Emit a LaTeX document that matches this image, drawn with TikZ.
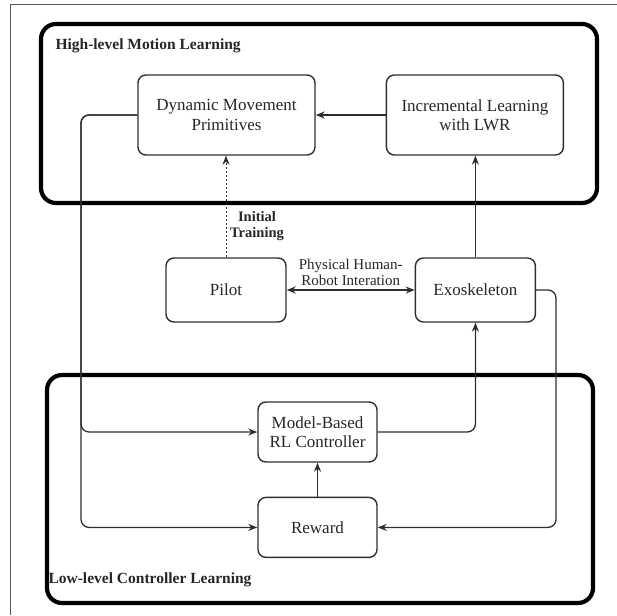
\documentclass[tikz,border=0pt]{standalone}
\usepackage{fontspec}
\setmainfont{Liberation Serif}
\usetikzlibrary{positioning,arrows.meta}
\definecolor{boxgray}{HTML}{2E2E2E}
\definecolor{inkgray}{HTML}{262626}
\begin{document}
\begin{tikzpicture}[
  x=1pt, y=-1pt,
  font=\fontsize{17}{19.5}\selectfont,
  block/.style={rounded corners=8pt, draw=boxgray, line width=1.4pt, text=inkgray, align=center, inner sep=0pt},
  longbox/.style={block, minimum width=177pt, minimum height=80pt},
  shortbox/.style={block, minimum width=120pt, minimum height=64pt},
  midbox/.style={block, minimum width=119pt, minimum height=60pt},
  group/.style={rounded corners=15pt, line width=4.2pt},
  grouplabel/.style={anchor=west, font=\fontsize{15.5}{17}\selectfont\bfseries, text=inkgray},
  linklabel/.style={font=\fontsize{15}{15.5}\selectfont, text=inkgray, align=center, inner sep=1pt},
  arr/.style={-{Stealth[length=9pt,width=7pt]}, line width=1.3pt, draw=boxgray},
  biarr/.style={{Stealth[length=9pt,width=7pt]}-{Stealth[length=9pt,width=7pt]}, line width=1.3pt, draw=boxgray}
]
\useasboundingbox (0,0) rectangle (617,615);
% page frame
\draw[black!65, line width=0.8pt] (10,615) -- (10,4) -- (617,4);

% groups
\draw[group] (41,24) rectangle (597,203);
\draw[group] (47,375) rectangle (593,603);
\node[grouplabel] (hl) at (52,46) {High-level Motion Learning};
\node[grouplabel] (ll) at (45,580) {Low-level Controller Learning};

% blocks
\node[longbox] (dmp) at (226.5,115) {Dynamic Movement\\Primitives};
\node[longbox, right=70pt of dmp] (ilwr) {Incremental Learning\\with LWR};
\node[shortbox] (pilot) at (226,290) {Pilot};
\node[shortbox, right=128pt of pilot] (exo) {Exoskeleton};
\node[midbox] (mbrl) at (317.5,432) {Model-Based\\RL Controller};
\node[midbox, below=34pt of mbrl] (reward) {Reward};

\coordinate (lbus) at (81,0);
\coordinate (rbus) at (556,0);

% connectors
\draw[arr] (ilwr) -- (dmp);
\draw[arr, line width=0.9pt, dash pattern=on 2pt off 2pt] (pilot.north) -- (pilot.north |- dmp.south);
\node[linklabel, font=\fontsize{14.5}{16}\selectfont\bfseries] (init) at (257,226) {Initial\\Training};
\draw[arr] (exo.north) -- (exo.north |- ilwr.south);
\draw[biarr] (pilot) -- (exo) node[linklabel, midway, above=3pt] (phri) {Physical Human-\\Robot Interation};
\draw[arr, rounded corners=8pt] (dmp.west) -| (lbus |- mbrl) -- (mbrl.west);
\draw[arr, rounded corners=8pt] (dmp.west) -| (lbus |- reward) -- (reward.west);
\draw[arr, rounded corners=8pt] (exo.east) -| (rbus |- reward) -- (reward.east);
\draw[arr, rounded corners=8pt] (mbrl.east) -| (exo.south);
\draw[arr] (reward) -- (mbrl);
\end{tikzpicture}
\end{document}
